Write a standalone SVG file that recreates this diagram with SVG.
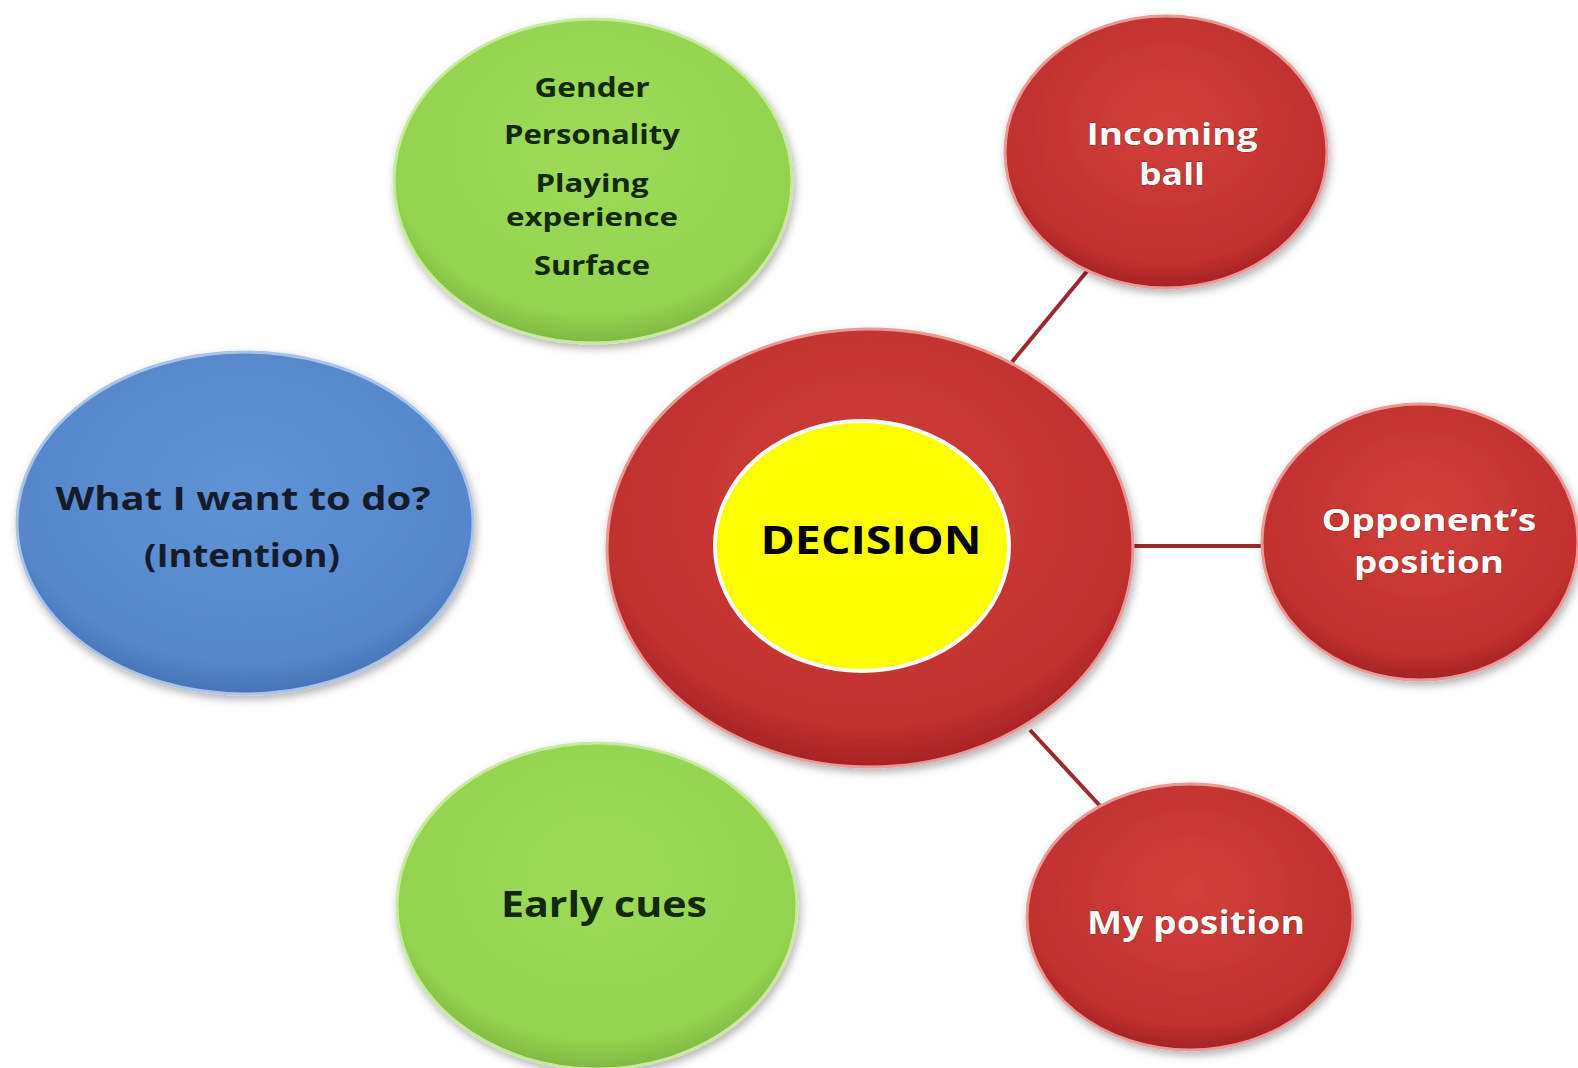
<svg xmlns="http://www.w3.org/2000/svg" width="1578" height="1068" viewBox="0 0 1578 1068">
<defs>
<radialGradient id="gRed" cx="50%" cy="40%" r="60%">
<stop offset="0" stop-color="#d2403b"/>
<stop offset="0.85" stop-color="#c0302e"/>
<stop offset="1" stop-color="#a52326"/>
</radialGradient>
<radialGradient id="gGreen" cx="50%" cy="40%" r="60%">
<stop offset="0" stop-color="#9ddb58"/>
<stop offset="0.85" stop-color="#94d34f"/>
<stop offset="1" stop-color="#7fb843"/>
</radialGradient>
<radialGradient id="gBlue" cx="50%" cy="40%" r="60%">
<stop offset="0" stop-color="#5f93d6"/>
<stop offset="0.85" stop-color="#5686cb"/>
<stop offset="1" stop-color="#4673b5"/>
</radialGradient>
<filter id="sh" x="-10%" y="-10%" width="120%" height="125%">
<feDropShadow dx="2" dy="4" stdDeviation="4" flood-color="#000" flood-opacity="0.3"/>
</filter>
</defs>
<style>
.red{fill:url(#gRed);stroke:#e89a96;stroke-width:3;filter:url(#sh)}
.green{fill:url(#gGreen);stroke:#c8eaa0;stroke-width:3;filter:url(#sh)}
.blue{fill:url(#gBlue);stroke:#a9c4e8;stroke-width:3;filter:url(#sh)}
.t{font-family:"Open Sans","Liberation Sans",sans-serif;font-weight:bold;text-anchor:middle}
.dk{fill:#14280a}
.wt{fill:#ffffff;stroke:#5a1010;stroke-width:0.6;paint-order:stroke}
.nv{fill:#141c2c}
.conn{stroke:#9a2a2e;stroke-width:4;fill:none}
</style>
<rect width="1578" height="1068" fill="#ffffff"/>
<g id="connectors">
<line class="conn" x1="1012" y1="362" x2="1088" y2="270"/>
<line class="conn" x1="1130" y1="546" x2="1268" y2="546"/>
<line class="conn" x1="1030" y1="730" x2="1102" y2="808"/>
</g>
<g id="node-context">
<ellipse class="green" cx="593" cy="181" rx="199" ry="162"/>
<text class="t dk" font-size="26" x="592" y="97" textLength="115" lengthAdjust="spacingAndGlyphs">Gender</text>
<text class="t dk" font-size="26" x="592" y="144" textLength="176" lengthAdjust="spacingAndGlyphs">Personality</text>
<text class="t dk" font-size="25" x="592" y="192" textLength="113" lengthAdjust="spacingAndGlyphs">Playing</text>
<text class="t dk" font-size="25" x="592" y="226" textLength="172" lengthAdjust="spacingAndGlyphs">experience</text>
<text class="t dk" font-size="26" x="592" y="275" textLength="116" lengthAdjust="spacingAndGlyphs">Surface</text>
</g>
<g id="node-incoming">
<ellipse class="red" cx="1166" cy="152" rx="161" ry="136"/>
<text class="t wt" font-size="31" x="1172" y="145" textLength="171" lengthAdjust="spacingAndGlyphs">Incoming</text>
<text class="t wt" font-size="31" x="1172" y="185" textLength="66" lengthAdjust="spacingAndGlyphs">ball</text>
</g>
<g id="node-intention">
<ellipse class="blue" cx="245" cy="523" rx="228" ry="171"/>
<text class="t nv" font-size="32" x="243" y="510" textLength="375" lengthAdjust="spacingAndGlyphs">What I want to do?</text>
<text class="t nv" font-size="32" x="242" y="567" textLength="196" lengthAdjust="spacingAndGlyphs">(Intention)</text>
</g>
<g id="node-decision">
<ellipse class="red" cx="870" cy="548" rx="263" ry="219"/>
<ellipse cx="862" cy="546" rx="147" ry="125" fill="#ffff00" stroke="#ffffff" stroke-width="4"/>
<text class="t" font-size="39" fill="#000" x="871" y="554" textLength="221" lengthAdjust="spacingAndGlyphs">DECISION</text>
</g>
<g id="node-opponent">
<ellipse class="red" cx="1420" cy="542" rx="158" ry="138"/>
<text class="t wt" font-size="31" x="1429" y="531" textLength="215" lengthAdjust="spacingAndGlyphs">Opponent’s</text>
<text class="t wt" font-size="31" x="1429" y="573" textLength="150" lengthAdjust="spacingAndGlyphs">position</text>
</g>
<g id="node-earlycues">
<ellipse class="green" cx="597" cy="906" rx="200" ry="163"/>
<text class="t dk" font-size="35" x="604" y="917" textLength="206" lengthAdjust="spacingAndGlyphs">Early cues</text>
</g>
<g id="node-myposition">
<ellipse class="red" cx="1190" cy="917" rx="163" ry="133"/>
<text class="t wt" font-size="33" x="1196" y="934" textLength="218" lengthAdjust="spacingAndGlyphs">My position</text>
</g>
</svg>
